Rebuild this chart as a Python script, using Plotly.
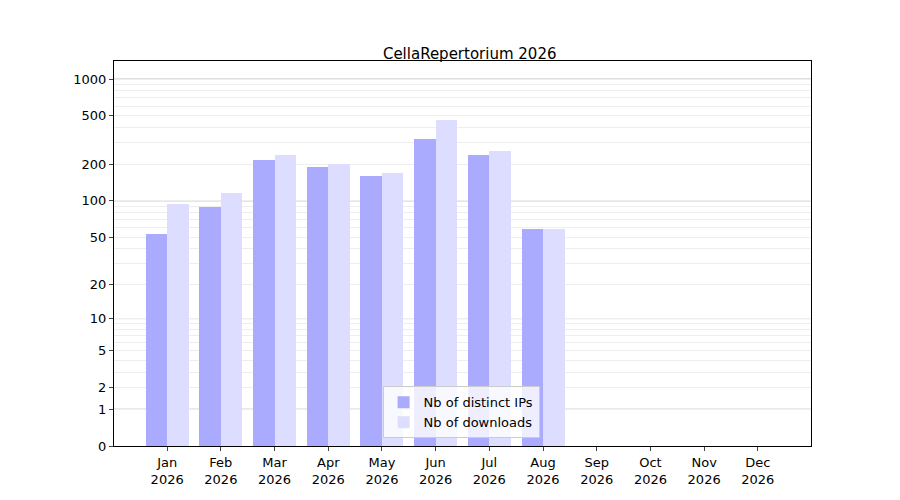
import numpy as np
import plotly.graph_objects as go

months = ["Jan", "Feb", "Mar", "Apr", "May", "Jun", "Jul", "Aug", "Sep", "Oct", "Nov", "Dec"]
year = "2026"
distinct_ips = [53, 89, 218, 190, 160, 323, 238, 58, 0, 0, 0, 0]
downloads = [94, 116, 239, 201, 170, 463, 257, 59, 0, 0, 0, 0]
tick_values = [0, 1, 2, 5, 10, 20, 50, 100, 200, 500, 1000]


def tr(v):
    # symlog-like scale of the original: log10(1 + x)
    return np.log10(1 + np.asarray(v, dtype=float))


xpos = np.arange(len(months))
labels = [m + "<br>" + year for m in months]

fig = go.Figure()
fig.add_trace(go.Bar(x=xpos - 0.2, y=tr(distinct_ips), width=0.4, name="Nb of distinct IPs",
                     marker=dict(color="#aaaaff", line=dict(width=0)),
                     customdata=distinct_ips, hovertemplate="%{customdata}"))
fig.add_trace(go.Bar(x=xpos + 0.2, y=tr(downloads), width=0.4, name="Nb of downloads",
                     marker=dict(color="#ddddff", line=dict(width=0)),
                     customdata=downloads, hovertemplate="%{customdata}"))

minor_vals = [m * 10 ** d for d in range(0, 4) for m in range(1, 10) if m * 10 ** d <= 1400]
for v in [1, 10, 100, 1000]:
    fig.add_shape(type="line", xref="paper", x0=0, x1=1, yref="y", y0=tr(v), y1=tr(v),
                  line=dict(color="#bbbbbb", width=1), layer="below")

fig.update_layout(
    width=900, height=500,
    title=dict(text="CellaRepertorium 2026", x=0.513, y=0.92, xanchor="center",
               font=dict(size=15, color="black")),
    font=dict(family="DejaVu Sans", size=13, color="black"),
    plot_bgcolor="white", paper_bgcolor="white",
    margin=dict(l=106, r=97, t=53, b=62),
    barmode="overlay", bargap=0,
    legend=dict(x=0.498, y=0.02, xanchor="center", yanchor="bottom",
                bgcolor="rgba(255,255,255,0.8)", bordercolor="#cccccc", borderwidth=1,
                font=dict(size=13)),
)
fig.update_xaxes(range=[-0.99, 11.99], tickvals=list(xpos), ticktext=labels,
                 showgrid=False, zeroline=False, showline=True, linecolor="black",
                 mirror=True, ticks="outside", ticklen=4)
fig.update_yaxes(range=[0, 3.148], tickvals=list(tr(tick_values)),
                 ticktext=[str(v) for v in tick_values],
                 showgrid=False, zeroline=False, showline=True, linecolor="black",
                 mirror=True, ticks="outside", ticklen=4,
                 minor=dict(tickvals=list(tr(minor_vals)), showgrid=True,
                            gridcolor="#eeeeee", gridwidth=1, ticks=""))

fig.write_html("out.html")
